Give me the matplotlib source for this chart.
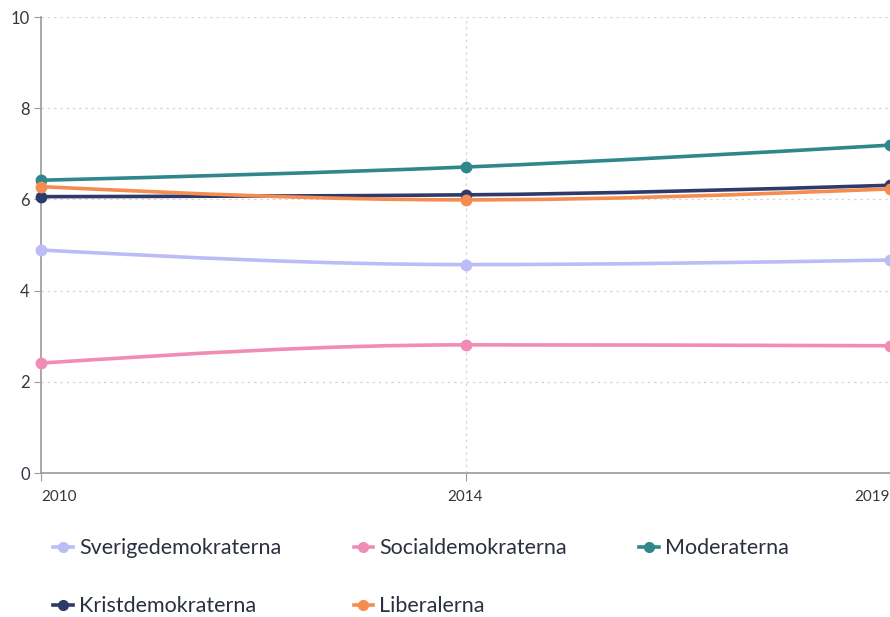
import numpy as np
import matplotlib.pyplot as plt
from matplotlib.path import Path
from matplotlib.patches import PathPatch
from matplotlib.lines import Line2D

plt.rcParams['font.family'] = ['Lato', 'DejaVu Sans']

years = ['2010', '2014', '2019']
parties = ['Sverigedemokraterna', 'Socialdemokraterna', 'Moderaterna',
           'Kristdemokraterna', 'Liberalerna']
sd = [4.89, 4.57, 4.67]
s = [2.41, 2.81, 2.79]
m = [6.42, 6.71, 7.19]
kd = [6.06, 6.10, 6.31]
l = [6.28, 5.99, 6.23]
colors = ['#bcbcf6', '#f08cb5', '#2f878b', '#2e3a6a', '#f58c50']
series = [sd, s, m, kd, l]


def monotone_path(x, y):
    # d3 curveMonotoneX as cubic bezier segments
    x = np.asarray(x, float)
    y = np.asarray(y, float)
    h = np.diff(x)
    sl = np.diff(y) / h
    n = len(x)
    t = np.zeros(n)
    for i in range(1, n - 1):
        p = (sl[i - 1] * h[i] + sl[i] * h[i - 1]) / (h[i - 1] + h[i])
        t[i] = (np.sign(sl[i - 1]) + np.sign(sl[i])) * min(abs(sl[i - 1]), abs(sl[i]), 0.5 * abs(p))
    t[0] = (3 * sl[0] - t[1]) / 2
    t[-1] = (3 * sl[-1] - t[-2]) / 2
    verts = [(x[0], y[0])]
    codes = [Path.MOVETO]
    for i in range(n - 1):
        dx = h[i] / 3
        verts += [(x[i] + dx, y[i] + dx * t[i]),
                  (x[i + 1] - dx, y[i + 1] - dx * t[i + 1]),
                  (x[i + 1], y[i + 1])]
        codes += [Path.CURVE4] * 3
    return Path(verts, codes)


fig = plt.figure(figsize=(8.9, 6.17), dpi=100)
ax = fig.add_axes([41 / 890, 1 - 473 / 617, 849 / 890, 456 / 617])

xs = np.arange(len(years))
for vals, c in zip(series, colors):
    ax.add_patch(PathPatch(monotone_path(xs, vals), fill=False, edgecolor=c,
                           lw=2.6, capstyle='round', clip_on=False, zorder=3))
    ax.plot(xs, vals, 'o', color=c, ms=7.5, clip_on=False, zorder=4)

ax.set_xlim(0, 2)
ax.set_ylim(0, 10)
ax.set_yticks([0, 2, 4, 6, 8, 10])
ax.set_xticks(xs)
ax.set_xticklabels(years)
labs = ax.get_xticklabels()
labs[0].set_horizontalalignment('left')
labs[-1].set_horizontalalignment('right')

ax.grid(axis='y', color='#d6d6d6', linestyle=(0, (2, 3)), lw=0.9)
ax.axvline(1, color='#d6d6d6', linestyle=(0, (2, 3)), lw=0.9, zorder=0)
for sp in ['top', 'right']:
    ax.spines[sp].set_visible(False)
for sp in ['left', 'bottom']:
    ax.spines[sp].set_color('#9a9a9a')
    ax.spines[sp].set_linewidth(1.2)
ax.tick_params(axis='y', length=5, color='#9a9a9a', labelsize=12, labelcolor='#333840', pad=3)
ax.tick_params(axis='x', length=6, color='#9a9a9a', labelsize=11, labelcolor='#333840', pad=6)
ax.set_axisbelow(True)

# legend fills column-wise, so reorder to get row-wise layout
order = [0, 3, 1, 4, 2]
handles = [Line2D([], [], color=colors[i], marker='o', lw=2.6, ms=7) for i in order]
fig.legend(handles, [parties[i] for i in order], ncol=3, loc='upper left',
           bbox_to_anchor=(34 / 890, 1 - 519 / 617),
           frameon=False, fontsize=15.5, handlelength=0.9, handletextpad=0.3,
           columnspacing=3.35, labelspacing=1.77, labelcolor='#2b3040')

fig.savefig('out.png', dpi=100)
